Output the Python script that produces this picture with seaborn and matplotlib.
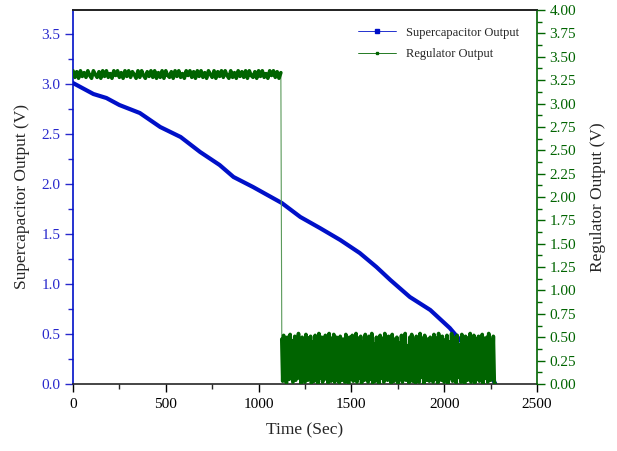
import numpy as np
import pandas as pd
import matplotlib
matplotlib.use("Agg")
import matplotlib.pyplot as plt
import seaborn as sns
from matplotlib.lines import Line2D
from matplotlib.ticker import MultipleLocator, FormatStrFormatter


# ----------------------------- Data -----------------------------

cap_time = [0, 50, 110, 180, 250, 360, 470, 580, 685, 790, 865, 970, 1125, 1225,
            1330, 1440, 1545, 1635, 1710, 1815, 1925, 2030, 2085, 2140, 2200, 2250, 2275]
cap_volt = [3.01, 2.96, 2.90, 2.86, 2.79, 2.71, 2.57, 2.47, 2.32, 2.19, 2.07, 1.97, 1.81, 1.67,
            1.56, 1.44, 1.31, 1.17, 1.04, 0.87, 0.74, 0.56, 0.44, 0.34, 0.22, 0.10, 0.00]

# regulator: ~3.3 V band sampled every 10 s until 1120 s
reg_high_start, reg_high_step = 0, 10
reg_high = [
    3.35, 3.28, 3.34, 3.27, 3.35, 3.29, 3.33, 3.28, 3.35, 3.30, 3.27, 3.35, 3.31, 3.28, 3.34, 3.27, 3.35, 3.29, 3.35, 3.28, 3.32, 3.27, 3.35,
    3.30, 3.35, 3.28, 3.33, 3.27, 3.35, 3.29, 3.35, 3.28, 3.34, 3.31, 3.27, 3.35, 3.28, 3.35, 3.30, 3.27, 3.34, 3.29, 3.35, 3.28, 3.35, 3.27,
    3.33, 3.28, 3.35, 3.27, 3.35, 3.30, 3.28, 3.34, 3.27, 3.35, 3.29, 3.35, 3.28, 3.32, 3.27, 3.35, 3.30, 3.35, 3.28, 3.34, 3.27, 3.35, 3.29,
    3.35, 3.28, 3.33, 3.27, 3.35, 3.31, 3.28, 3.35, 3.27, 3.34, 3.29, 3.35, 3.28, 3.35, 3.30, 3.27, 3.35, 3.28, 3.33, 3.27, 3.35, 3.29, 3.34,
    3.28, 3.35, 3.27, 3.35, 3.30, 3.28, 3.34, 3.27, 3.35, 3.29, 3.35, 3.28, 3.32, 3.27, 3.35, 3.30, 3.35, 3.28, 3.34, 3.27, 3.33,
]

# regulator: dropped-out noisy output sampled every 5 s from 1125 s
reg_low_start, reg_low_step = 1125, 5
reg_low = [
    0.48, 0.03, 0.52, 0.11, 0.44, 0.01, 0.50, 0.27, 0.05, 0.53, 0.08, 0.46, 0.02, 0.38, 0.51, 0.04, 0.49, 0.15, 0.54, 0.06, 0.42, 0.00, 0.50,
    0.09, 0.47, 0.02, 0.53, 0.21, 0.04, 0.49, 0.12, 0.51, 0.01, 0.45, 0.33, 0.03, 0.52, 0.07, 0.48, 0.00, 0.54, 0.18, 0.06, 0.50, 0.02, 0.41,
    0.05, 0.52, 0.10, 0.47, 0.01, 0.54, 0.24, 0.03, 0.49, 0.08, 0.53, 0.02, 0.36, 0.50, 0.06, 0.46, 0.01, 0.51, 0.14, 0.04, 0.48, 0.29, 0.02,
    0.53, 0.07, 0.44, 0.00, 0.50, 0.19, 0.05, 0.52, 0.03, 0.47, 0.11, 0.54, 0.02, 0.40, 0.49, 0.06, 0.51, 0.01, 0.45, 0.26, 0.04, 0.53, 0.09,
    0.48, 0.02, 0.51, 0.13, 0.05, 0.54, 0.01, 0.43, 0.31, 0.03, 0.50, 0.08, 0.47, 0.00, 0.52, 0.17, 0.06, 0.49, 0.02, 0.54, 0.10, 0.39, 0.04,
    0.51, 0.07, 0.46, 0.01, 0.53, 0.22, 0.03, 0.48, 0.12, 0.50, 0.00, 0.44, 0.35, 0.05, 0.52, 0.02, 0.49, 0.09, 0.54, 0.04, 0.41, 0.16, 0.01,
    0.50, 0.06, 0.53, 0.03, 0.47, 0.25, 0.01, 0.51, 0.10, 0.45, 0.02, 0.54, 0.07, 0.37, 0.49, 0.00, 0.52, 0.14, 0.04, 0.48, 0.28, 0.03, 0.50,
    0.08, 0.46, 0.02, 0.53, 0.19, 0.05, 0.49, 0.01, 0.54, 0.11, 0.43, 0.04, 0.51, 0.32, 0.02, 0.47, 0.09, 0.52, 0.00, 0.45, 0.23, 0.06, 0.54,
    0.03, 0.50, 0.13, 0.48, 0.01, 0.52, 0.07, 0.42, 0.30, 0.02, 0.53, 0.05, 0.47, 0.00, 0.51, 0.18, 0.04, 0.49, 0.10, 0.54, 0.02, 0.44, 0.08,
    0.52, 0.01, 0.48, 0.26, 0.05, 0.51, 0.03, 0.46, 0.12, 0.53, 0.00, 0.49, 0.34, 0.06, 0.50, 0.02, 0.54, 0.15, 0.04, 0.47, 0.09, 0.51, 0.02, 0.00,
]

BLUE = '#0010C8'
BLUE_TXT = '#2828CC'
GREEN = '#006400'


def main():
    sns.set_style("ticks")
    plt.rcParams['font.family'] = ['Liberation Serif', 'DejaVu Serif']
    # keep every zigzag of the noisy regulator trace (no merging of back-and-forth segments)
    plt.rcParams['path.simplify'] = False

    high_t = [reg_high_start + i * reg_high_step for i in range(len(reg_high))]
    low_t = [reg_low_start + i * reg_low_step for i in range(len(reg_low))]
    cap_df = pd.DataFrame({"time": cap_time, "volt": cap_volt})
    reg_df = pd.DataFrame({
        "time": high_t + low_t,
        "volt": reg_high + reg_low,
        "segment": ["high"] * len(reg_high) + ["low"] * len(reg_low),
    })

    fig = plt.figure(figsize=(6.17, 4.51), dpi=100)
    ax = fig.add_axes([0.1183, 0.1486, 0.7520, 0.8292])
    ax2 = ax.twinx()

    sns.lineplot(data=cap_df, x="time", y="volt", ax=ax, color=BLUE, lw=3,
                 estimator=None, sort=False)
    # thin step where the regulator drops out
    sns.lineplot(x=[high_t[-1], low_t[0]], y=[reg_high[-1], reg_low[0]], ax=ax2,
                 color='#5A9A5A', lw=0.8, estimator=None, sort=False)
    # dense noisy regulator output
    sns.lineplot(data=reg_df, x="time", y="volt", units="segment", ax=ax2,
                 color=GREEN, lw=2.6, estimator=None, sort=False)

    # --- axes ---
    ax.set_xlim(0, 2500)
    ax.set_ylim(0, 3.74)
    ax2.set_ylim(0, 4.0)
    ax.xaxis.set_major_locator(MultipleLocator(500))
    ax.xaxis.set_minor_locator(MultipleLocator(250))
    ax.yaxis.set_major_locator(MultipleLocator(0.5))
    ax.yaxis.set_minor_locator(MultipleLocator(0.25))
    ax2.yaxis.set_major_locator(MultipleLocator(0.25))
    ax2.yaxis.set_minor_locator(MultipleLocator(0.125))
    ax2.yaxis.set_major_formatter(FormatStrFormatter('%.2f'))
    ax.yaxis.set_major_formatter(FormatStrFormatter('%.1f'))

    ax.set_xlabel("Time (Sec)", fontsize=12.5, labelpad=8)
    ax.set_ylabel("Supercapacitor Output (V)", fontsize=12.5, labelpad=8)
    ax2.set_ylabel("Regulator Output (V)", fontsize=12.5, labelpad=10)

    ax.tick_params(axis='x', which='major', length=6, width=1, labelsize=11, colors='black', pad=4)
    ax.tick_params(axis='x', which='minor', length=3.5, width=1)
    ax.tick_params(axis='y', which='major', length=6, width=1, labelsize=11, colors=BLUE_TXT, pad=3)
    ax.tick_params(axis='y', which='minor', length=3.5, width=1, colors=BLUE_TXT)
    ax2.tick_params(axis='y', which='major', length=6, width=1, labelsize=11, colors=GREEN, pad=3)
    ax2.tick_params(axis='y', which='minor', length=3.5, width=1, colors=GREEN)

    for a in (ax, ax2):
        for s in a.spines.values():
            s.set_linewidth(1.2)
            s.set_visible(True)
    ax.spines['left'].set_color(BLUE)
    ax.spines['right'].set_visible(False)
    ax2.spines['left'].set_visible(False)
    ax2.spines['right'].set_color(GREEN)
    ax2.spines['bottom'].set_visible(False)
    ax.spines['top'].set_color('black')

    # --- legend ---
    handles = [
        Line2D([], [], color=BLUE, lw=0.6, marker='s', markersize=2.5),
        Line2D([], [], color=GREEN, lw=0.6, marker='s', markersize=1.8),
    ]
    ax2.legend(handles, ["Supercapacitor Output", "Regulator Output"],
               loc='upper right', bbox_to_anchor=(0.985, 0.985), frameon=False,
               fontsize=9, handlelength=3.0, labelspacing=0.75)

    fig.savefig("out.png", dpi=100)
    plt.close(fig)


if __name__ == '__main__':
    main()
